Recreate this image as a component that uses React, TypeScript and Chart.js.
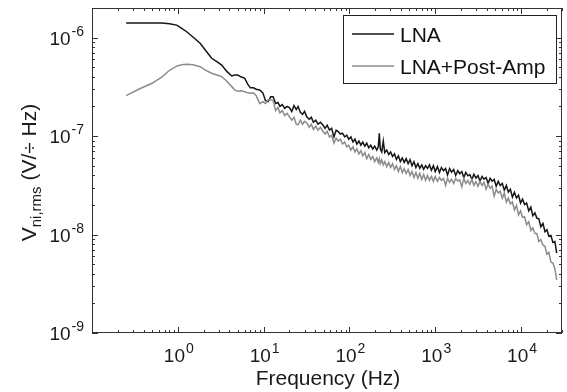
import React, { useEffect, useRef } from 'react';
import { Chart, registerables } from 'chart.js';

Chart.register(...registerables);

// ---------- data ----------
const frequencyHz = [
  0.25, 0.35, 0.5, 0.65, 0.8, 0.97, 1.1, 1.27, 1.5, 1.82, 2.1, 2.48, 2.85, 3.25, 3.7, 4.25, 4.6, 5.0, 5.5, 6.0, 6.5, 7.0, 7.6, 8.2, 9.0, 9.8,
  10.5, 11.3, 12.1, 12.9, 13.8, 14.7, 15.5, 16.5, 17.6, 18.8, 20.0, 21.3, 22.6, 24.0, 25.2, 26.8, 28.4, 30.0, 31.8, 34, 36, 38, 40.5, 43, 46, 49, 52, 55, 58.5, 62, 66, 70, 74, 78.5, 83, 88, 93, 98,
  104, 110, 116, 122, 129, 136, 143, 151, 159, 168, 177, 187, 197, 208, 217, 223, 229, 238, 248, 258, 272, 287, 302, 318, 335, 353, 372, 392, 413, 435, 458, 483, 509, 536, 565, 595, 627, 661, 696, 733, 772, 813, 857, 903, 951,
  1000, 1060, 1120, 1180, 1250, 1320, 1390, 1470, 1550, 1640, 1730, 1830, 1930, 2040, 2150, 2270, 2400, 2530, 2670, 2820, 2980, 3150, 3320, 3510, 3700, 3910, 4130, 4360, 4600, 4860, 5130, 5420, 5720, 6040, 6380, 6740, 7110, 7510, 7930, 8370, 8840, 9340, 9860, 10400, 11000, 11600, 12300, 13000, 13700, 14500, 15300, 16100, 17000, 18000, 19000, 20000, 21100, 22300, 23500, 24800, 26000,
];

// noise spectral density in nV/sqrt(Hz)
const lnaNoise_nV = [
  1410, 1410, 1410, 1405, 1385, 1340, 1250, 1148, 1014, 877, 745, 617, 569, 527, 457, 408, 417, 417, 398, 389, 339, 309, 309, 299, 294, 275,
  229, 224, 251, 251, 214, 219, 200, 209, 191, 200, 195, 178, 204, 186, 200, 174, 166, 178, 157, 148, 155, 138, 145, 132, 138, 130, 120, 129, 115, 120, 98, 115, 111, 105, 107, 98, 102, 93,
  98, 87, 93, 83, 89, 81, 87, 79, 85, 76, 81, 74, 79, 72, 78, 107, 74, 69, 89, 68, 72, 65, 69, 62, 66, 58, 63, 55, 60, 54, 59, 52.5, 57.5, 50, 55, 48, 52.5, 47, 51, 46, 50, 47, 51, 45, 50,
  43.6, 49, 42.7, 47.9, 44.5, 46.8, 40.2, 46.8, 43.0, 45.7, 39.8, 44.7, 41.5, 43.6, 38.0, 42.7, 39.5, 40.7, 36.3, 41.0, 37.5, 39.8, 34.7, 38.9, 36.5, 38.0, 33.1, 37.2, 34.8, 36.3, 30.9, 34.7, 31.5, 33.1, 28.2, 31.5, 27.0, 28.8, 24.0, 26.9, 23.5, 25.1, 20.9, 22.9, 20.2, 20.9, 17.4, 19.0, 15.5, 16.6, 14.6, 14.5, 12.0, 13.0, 10.7, 11.2, 9.6, 9.77, 8.32, 8.5, 6.46,
];

const lnaPostAmpNoise_nV = [
  258, 299, 344, 398, 466, 513, 531, 536, 531, 507, 468, 435, 417, 402, 363, 318, 295, 285, 288, 282, 275, 272, 275, 257, 214, 224,
  214, 234, 234, 229, 182, 195, 172, 182, 162, 170, 157, 145, 155, 132, 130, 145, 132, 141, 136, 123, 132, 117, 126, 115, 123, 112, 105, 112, 98, 102, 85, 95, 89, 93, 83, 87, 78, 81,
  72, 78, 69, 74, 66, 71, 63, 68, 59, 65, 58, 62, 55, 60, 54, 59, 52.5, 57.5, 51, 55, 49, 54, 48, 52.5, 46, 50, 43.6, 49, 42.7, 46.8, 41.7, 45.7, 39.8, 43.6, 38.0, 42.7, 37.2, 41.7, 36.3, 40.7, 35.5, 39.8, 35.5, 38.9, 34.7,
  38.9, 34.7, 38.0, 35.5, 37.0, 31.5, 37.2, 33.9, 36.5, 33.1, 37.2, 35.0, 36.0, 30.5, 37.2, 33.1, 35.5, 32.4, 36.3, 31.6, 34.5, 30.9, 34.7, 31.5, 33.9, 28.8, 32.4, 29.5, 30.9, 24.5, 28.8, 26.5, 27.5, 23.4, 26.5, 21.4, 23.4, 20.5, 21.4, 17.8, 19.8, 15.8, 17.4, 15.0, 15.1, 12.6, 13.5, 11.0, 11.7, 10.3, 10.2, 8.51, 8.91, 7.8, 7.59, 6.31, 6.6, 5.25, 5.13, 4.5, 3.47,
];

const seriesNames = ['LNA', 'LNA+Post-Amp'];
const seriesColors = ['#161616', '#8c8c8c'];
const xTickExponents = [0, 1, 2, 3, 4];
const yTickExponents = [-9, -8, -7, -6];
const xAxisTitle = 'Frequency (Hz)';
const xMin = 0.1;
const xMax = 30000;
const yMin = 1e-9;
const yMax = 2e-6;

const FONT = "'Liberation Sans', Arial, Helvetica, sans-serif";

function drawPower(ctx: CanvasRenderingContext2D, exp: number, x: number, baseline: number, align: 'center' | 'right') {
  const base = '10';
  const e = String(exp);
  ctx.font = `19px ${FONT}`;
  const wb = ctx.measureText(base).width;
  ctx.font = `14px ${FONT}`;
  const we = ctx.measureText(e).width;
  const total = wb + we + 1;
  const start = align === 'center' ? x - total / 2 : x - total;
  ctx.textAlign = 'left';
  ctx.textBaseline = 'alphabetic';
  ctx.font = `19px ${FONT}`;
  ctx.fillText(base, start, baseline);
  ctx.font = `14px ${FONT}`;
  ctx.fillText(e, start + wb + 1, baseline - 9);
}

const framePlugin = {
  id: 'matlabFrame',
  afterDatasetsDraw(chart: any) {
    const { ctx, chartArea: a, scales } = chart;
    const xs = scales.x;
    const ys = scales.y;
    ctx.save();
    ctx.strokeStyle = '#333';
    ctx.lineWidth = 1;
    // box
    ctx.strokeRect(a.left + 0.5, a.top + 0.5, a.right - a.left - 1, a.bottom - a.top - 1);

    // x ticks
    ctx.beginPath();
    for (let d = -1; d <= 4; d++) {
      for (let m = 1; m <= 9; m++) {
        const v = m * Math.pow(10, d);
        if (v < xMin * 0.999 || v > xMax * 1.001) continue;
        const px = Math.round(xs.getPixelForValue(v)) + 0.5;
        const len = m === 1 ? 6 : 3;
        ctx.moveTo(px, a.bottom);
        ctx.lineTo(px, a.bottom - len);
        ctx.moveTo(px, a.top);
        ctx.lineTo(px, a.top + len);
      }
    }
    // y ticks
    for (let d = -9; d <= -6; d++) {
      for (let m = 1; m <= 9; m++) {
        const v = m * Math.pow(10, d);
        if (v < yMin * 0.999 || v > yMax * 1.001) continue;
        const py = Math.round(ys.getPixelForValue(v)) + 0.5;
        const len = m === 1 ? 6 : 3;
        ctx.moveTo(a.left, py);
        ctx.lineTo(a.left + len, py);
        ctx.moveTo(a.right, py);
        ctx.lineTo(a.right - len, py);
      }
    }
    ctx.stroke();

    ctx.fillStyle = '#1a1a1a';
    // x tick labels
    for (const e of xTickExponents) {
      const px = xs.getPixelForValue(Math.pow(10, e));
      drawPower(ctx, e, px + 1, a.bottom + 29, 'center');
    }
    // y tick labels
    for (const e of yTickExponents) {
      const py = ys.getPixelForValue(Math.pow(10, e));
      drawPower(ctx, e, a.left - 8, py + 7, 'right');
    }

    // x title
    ctx.font = `21px ${FONT}`;
    ctx.textAlign = 'center';
    ctx.textBaseline = 'alphabetic';
    ctx.fillText(xAxisTitle, (a.left + a.right) / 2 + 1, 385);

    // y title (rotated, with subscript)
    const parts = [
      { t: 'V', size: 21, dy: 0 },
      { t: 'ni,rms', size: 15, dy: 5 },
      { t: ' (V/\u00F7 Hz)', size: 21, dy: 0 },
    ];
    let total = 0;
    for (const p of parts) {
      ctx.font = `${p.size}px ${FONT}`;
      total += ctx.measureText(p.t).width;
    }
    ctx.save();
    ctx.translate(36, (a.top + a.bottom) / 2 + 2);
    ctx.rotate(-Math.PI / 2);
    ctx.textAlign = 'left';
    let cx = -total / 2;
    for (const p of parts) {
      ctx.font = `${p.size}px ${FONT}`;
      ctx.fillText(p.t, cx, p.dy);
      cx += ctx.measureText(p.t).width;
    }
    ctx.restore();

    // legend
    const lx = 343.5, ly = 15.5, lw = 213, lh = 68;
    ctx.fillStyle = '#ffffff';
    ctx.fillRect(lx, ly, lw, lh);
    ctx.strokeStyle = '#222';
    ctx.strokeRect(lx, ly, lw, lh);
    const rows = [34, 66];
    seriesNames.forEach((name, i) => {
      ctx.strokeStyle = seriesColors[i];
      ctx.lineWidth = 1.3;
      ctx.beginPath();
      ctx.moveTo(352, rows[i]);
      ctx.lineTo(394, rows[i]);
      ctx.stroke();
      ctx.fillStyle = '#111';
      ctx.font = `21px ${FONT}`;
      ctx.textAlign = 'left';
      ctx.textBaseline = 'middle';
      ctx.fillText(name, 400, rows[i] + 2);
    });
    ctx.restore();
  },
};

export default function App() {
  const canvasRef = useRef<HTMLCanvasElement | null>(null);

  useEffect(() => {
    if (!canvasRef.current) return;
    const toPoints = (vals: number[]) => frequencyHz.map((f, i) => ({ x: f, y: vals[i] * 1e-9 }));
    const chart = new Chart(canvasRef.current, {
      type: 'line',
      data: {
        datasets: [
          {
            label: seriesNames[0],
            data: toPoints(lnaNoise_nV),
            borderColor: seriesColors[0],
            borderWidth: 1.5,
            pointRadius: 0,
            tension: 0,
            order: 1,
          },
          {
            label: seriesNames[1],
            data: toPoints(lnaPostAmpNoise_nV),
            borderColor: seriesColors[1],
            borderWidth: 1.5,
            pointRadius: 0,
            tension: 0,
            order: 0,
          },
        ],
      },
      options: {
        responsive: false,
        animation: false,
        devicePixelRatio: 1,
        layout: { padding: { left: 92, right: 5, top: 8, bottom: 59 } },
        plugins: {
          legend: { display: false },
          tooltip: { enabled: false },
          title: { display: false },
        },
        scales: {
          x: { type: 'logarithmic', min: xMin, max: xMax, display: false },
          y: { type: 'logarithmic', min: yMin, max: yMax, display: false },
        },
      },
      plugins: [framePlugin],
    } as any);
    return () => chart.destroy();
  }, []);

  return (
    <div style={{ position: 'absolute', left: 0, top: 0, width: 567, height: 392, background: '#fff' }}>
      <canvas ref={canvasRef} width={567} height={392} style={{ display: 'block' }} />
    </div>
  );
}
